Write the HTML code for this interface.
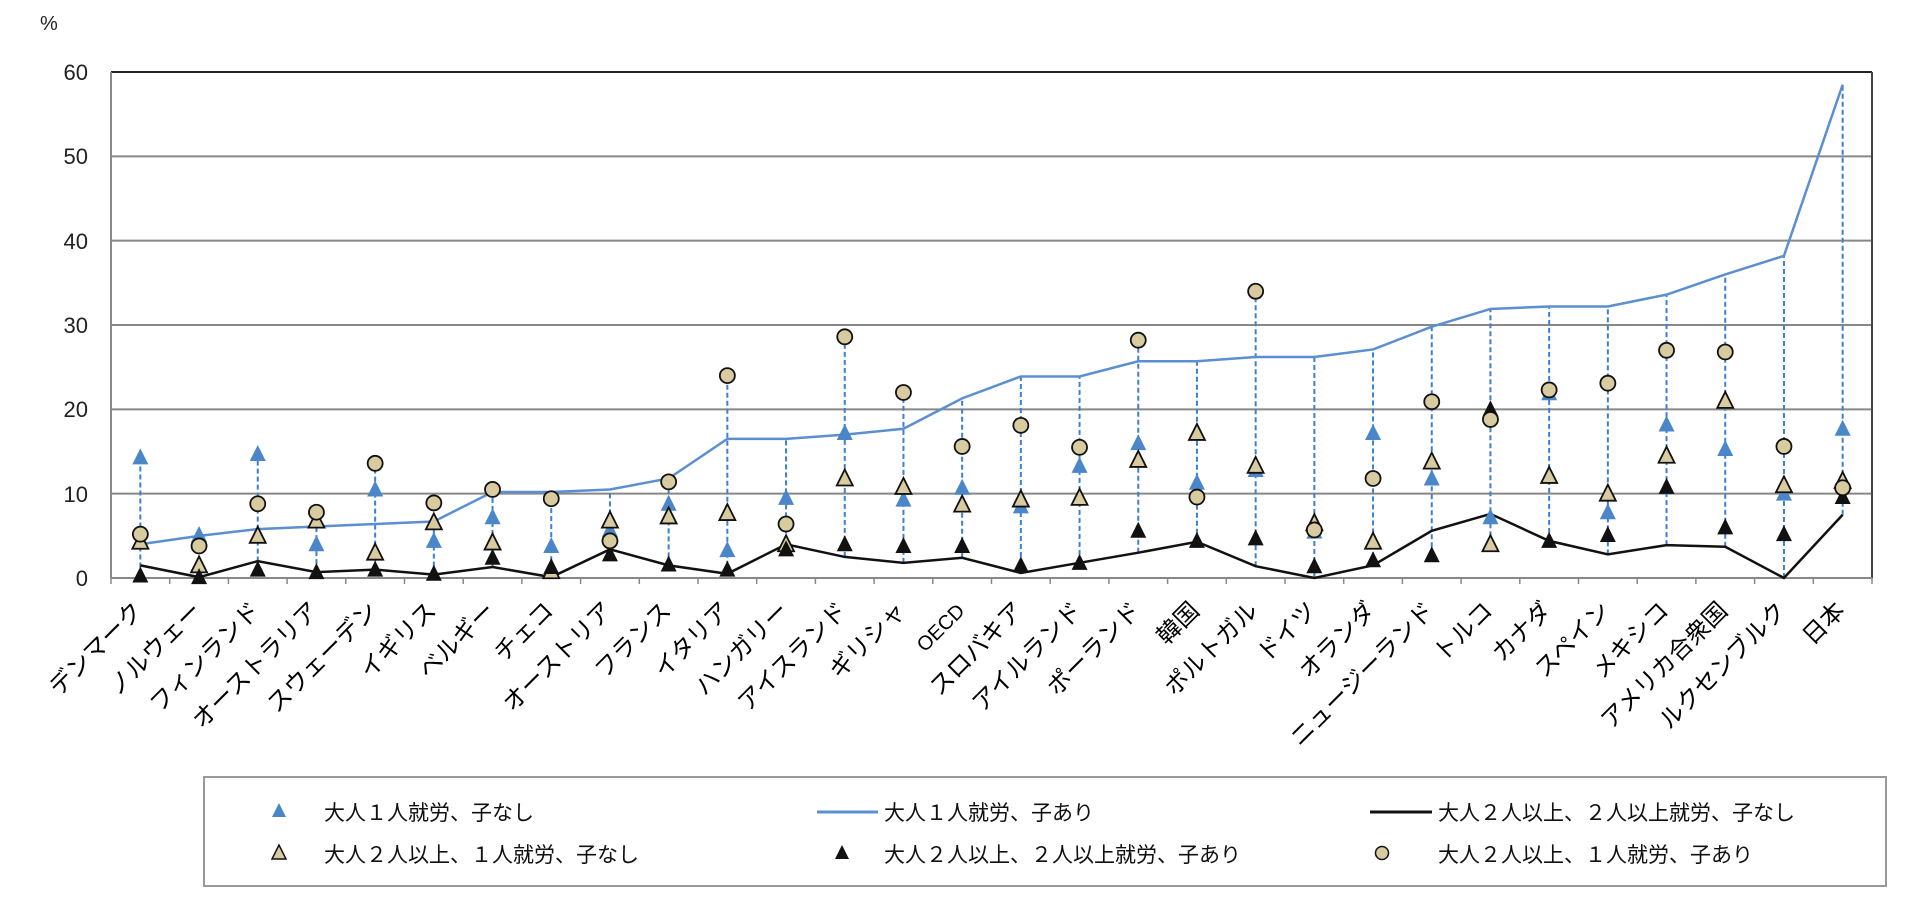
<!DOCTYPE html>
<html><head><meta charset="utf-8"><style>
html,body{margin:0;padding:0;background:#fff;}
svg text{font-family:"Liberation Sans","Noto Sans CJK JP",sans-serif;}
</style></head><body>
<svg id="s" width="1930" height="918" viewBox="0 0 1930 918" xmlns="http://www.w3.org/2000/svg">
<rect width="1930" height="918" fill="#fff"/>
<text x="40" y="30" font-size="20" fill="#222">%</text>
<g font-size="22" fill="#222" text-anchor="end">
<text x="88" y="80">60</text><text x="88" y="164">50</text><text x="88" y="249">40</text>
<text x="88" y="333">30</text><text x="88" y="417">20</text><text x="88" y="502">10</text><text x="88" y="586">0</text>
</g>
<g id="grid"></g>
<g font-size="24" fill="#000" text-anchor="end">
<text transform="translate(144,612) rotate(-45)">デンマーク</text>
<text transform="translate(202.7,612) rotate(-45)">ノルウェー</text>
<text transform="translate(261.4,612) rotate(-45)">フィンランド</text>
<text transform="translate(320.1,612) rotate(-45)">オーストラリア</text>
<text transform="translate(378.8,612) rotate(-45)">スウェーデン</text>
<text transform="translate(437.5,612) rotate(-45)">イギリス</text>
<text transform="translate(496.2,612) rotate(-45)">ベルギー</text>
<text transform="translate(554.9,612) rotate(-45)">チェコ</text>
<text transform="translate(613.6,612) rotate(-45)">オーストリア</text>
<text transform="translate(672.3,612) rotate(-45)">フランス</text>
<text transform="translate(731,612) rotate(-45)">イタリア</text>
<text transform="translate(789.7,612) rotate(-45)">ハンガリー</text>
<text transform="translate(848.4,612) rotate(-45)">アイスランド</text>
<text transform="translate(907.1,612) rotate(-45)">ギリシャ</text>
<text transform="translate(965.8,612) rotate(-45)" font-size="20">OECD</text>
<text transform="translate(1024.5,612) rotate(-45)">スロバキア</text>
<text transform="translate(1083.2,612) rotate(-45)">アイルランド</text>
<text transform="translate(1141.9,612) rotate(-45)">ポーランド</text>
<text transform="translate(1200.6,612) rotate(-45)">韓国</text>
<text transform="translate(1259.3,612) rotate(-45)">ポルトガル</text>
<text transform="translate(1318,612) rotate(-45)">ドイツ</text>
<text transform="translate(1376.7,612) rotate(-45)">オランダ</text>
<text transform="translate(1435.4,612) rotate(-45)">ニュージーランド</text>
<text transform="translate(1494.1,612) rotate(-45)">トルコ</text>
<text transform="translate(1552.8,612) rotate(-45)">カナダ</text>
<text transform="translate(1611.5,612) rotate(-45)">スペイン</text>
<text transform="translate(1670.2,612) rotate(-45)">メキシコ</text>
<text transform="translate(1728.9,612) rotate(-45)">アメリカ合衆国</text>
<text transform="translate(1787.6,612) rotate(-45)">ルクセンブルク</text>
<text transform="translate(1846.3,612) rotate(-45)">日本</text>
</g>
<rect x="204" y="777" width="1682" height="109" fill="none" stroke="#999" stroke-width="2"/>
<g font-size="21" fill="#111">
<polygon points="279,803 272,817 286,817" fill="#4a86c8"/>
<text x="324" y="820">大人１人就労、子なし</text>
<line x1="817" y1="812" x2="878" y2="812" stroke="#5b8fd0" stroke-width="3"/>
<text x="884" y="820">大人１人就労、子あり</text>
<line x1="1370" y1="812" x2="1432" y2="812" stroke="#111" stroke-width="3"/>
<text x="1438" y="820">大人２人以上、２人以上就労、子なし</text>
<polygon points="279,845 272,859 286,859" fill="#d9cba0" stroke="#111" stroke-width="1.5"/>
<text x="324" y="862">大人２人以上、１人就労、子なし</text>
<polygon points="842,845 835,859 849,859" fill="#111"/>
<text x="884" y="862">大人２人以上、２人以上就労、子あり</text>
<circle cx="1382" cy="853" r="6.5" fill="#d9cba0" stroke="#111" stroke-width="1.5"/>
<text x="1438" y="862">大人２人以上、１人就労、子あり</text>
</g>
<g id="plot"></g>
</svg>
<script>
var L=111,R=1872,T=72,B=578,u=(B-T)/60,w=(R-L)/30;
function Y(v){return B-v*u;}function X(i){return L+w*(i+0.5);}
var d=[[14.3,4.0,1.5,4.3,0.3,5.2],[5.1,5.0,0.1,1.5,0.1,3.8],[14.7,5.8,2.0,5.0,1.0,8.8],[4.0,6.1,0.7,6.8,0.7,7.8],[10.5,6.4,1.0,3.0,1.0,13.6],[4.4,6.7,0.4,6.6,0.5,8.9],[7.2,10.2,1.3,4.2,2.4,10.5],[3.8,10.2,0.1,0.8,1.3,9.4],[5.7,10.5,3.4,6.8,2.8,4.4],[8.8,11.8,1.5,7.3,1.6,11.4],[3.3,16.5,0.5,7.7,1.0,24.0],[9.5,16.5,4.0,4.0,3.4,6.4],[17.2,17.0,2.5,11.8,4.0,28.6],[9.3,17.7,1.8,10.8,3.8,22.0],[10.7,21.3,2.4,8.7,3.8,15.6],[8.5,23.9,0.6,9.3,1.5,18.1],[13.3,23.9,1.8,9.5,1.8,15.5],[16.0,25.7,3.0,14.0,5.6,28.2],[11.3,25.7,4.3,17.2,4.4,9.6],[12.8,26.2,1.4,13.3,4.7,34.0],[5.5,26.2,0,6.5,1.4,5.7],[17.2,27.1,1.5,4.3,2.1,11.8],[11.8,29.8,5.6,13.8,2.7,20.9],[7.2,31.9,7.6,4.0,20.0,18.8],[21.9,32.2,4.4,12.1,4.4,22.3],[7.8,32.2,2.8,10.0,5.1,23.1],[18.2,33.6,3.9,14.5,10.8,27.0],[15.3,36.0,3.7,21.0,6.0,26.8],[10.0,38.2,0,11.0,5.2,15.6],[17.7,58.5,7.5,11.5,9.6,10.7]];
var g='';
for(var k=1;k<=5;k++)g+='<line x1="'+L+'" x2="'+R+'" y1="'+Y(k*10)+'" y2="'+Y(k*10)+'" stroke="#888" stroke-width="2"/>';
g+='<line x1="'+L+'" x2="'+R+'" y1="'+T+'" y2="'+T+'" stroke="#222" stroke-width="2"/>';
g+='<line x1="'+R+'" x2="'+R+'" y1="'+T+'" y2="'+B+'" stroke="#444" stroke-width="2"/>';
g+='<line x1="'+L+'" x2="'+L+'" y1="'+T+'" y2="'+B+'" stroke="#888" stroke-width="2"/>';
g+='<line x1="'+L+'" x2="'+R+'" y1="'+B+'" y2="'+B+'" stroke="#888" stroke-width="2"/>';
for(var i=0;i<=30;i++)g+='<line x1="'+(L+w*i)+'" x2="'+(L+w*i)+'" y1="'+B+'" y2="'+(B+6)+'" stroke="#888" stroke-width="1.5"/>';
document.getElementById('grid').innerHTML=g;
var p='';
d.forEach(function(r,i){var mn=Math.min.apply(0,r),mx=Math.max.apply(0,r);p+='<line x1="'+X(i)+'" x2="'+X(i)+'" y1="'+Y(mn)+'" y2="'+Y(mx)+'" stroke="#3f7fd0" stroke-width="2" stroke-dasharray="5,3"/>';});
var a='',b='';d.forEach(function(r,i){a+=X(i)+','+Y(r[1])+' ';b+=X(i)+','+Y(r[2])+' ';});
p+='<polyline points="'+a+'" fill="none" stroke="#5b8fd0" stroke-width="2.5"/>';
p+='<polyline points="'+b+'" fill="none" stroke="#111" stroke-width="2.5"/>';
function tri(x,y,f,s){return '<polygon points="'+x+','+(y-9)+' '+(x-8)+','+(y+7)+' '+(x+8)+','+(y+7)+'" fill="'+f+'"'+(s?' stroke="#111" stroke-width="1.8"':'')+'/>';}
d.forEach(function(r,i){var x=X(i);
p+=tri(x,Y(r[0]),'#4a86c8',0);
p+=tri(x,Y(r[3]),'#d9cba0',1);
p+=tri(x,Y(r[4]),'#111',0);
p+='<circle cx="'+x+'" cy="'+Y(r[5])+'" r="7.5" fill="#d9cba0" stroke="#111" stroke-width="1.8"/>';});
document.getElementById('plot').innerHTML=p;
</script>
</body></html>
